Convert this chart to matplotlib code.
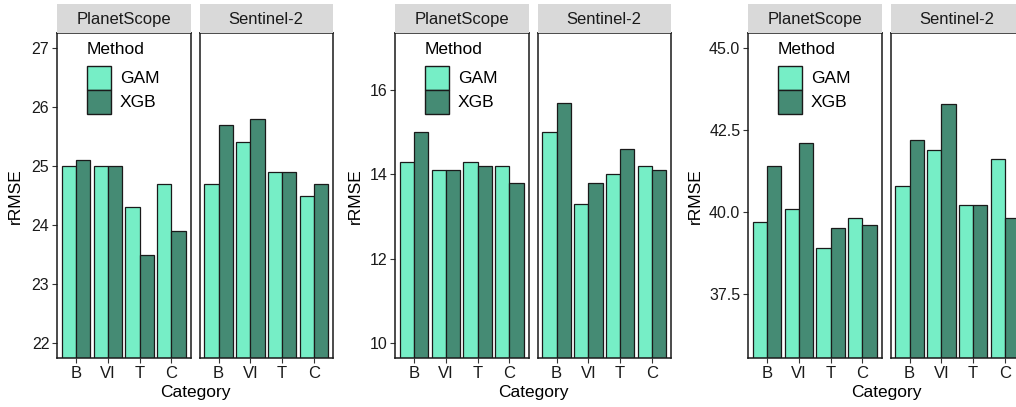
import numpy as np
import matplotlib.pyplot as plt
from matplotlib.patches import Rectangle

plt.rcParams['font.family'] = ['Liberation Sans', 'DejaVu Sans']

# --- Data ---
categories = ['B', 'VI', 'T', 'C']
sensors = ['PlanetScope', 'Sentinel-2']
methods = ['GAM', 'XGB']

# left group
a_planet_gam = [25.0, 25.0, 24.3, 24.7]
a_planet_xgb = [25.1, 25.0, 23.5, 23.9]
a_sentinel_gam = [24.7, 25.4, 24.9, 24.5]
a_sentinel_xgb = [25.7, 25.8, 24.9, 24.7]

# middle group
b_planet_gam = [14.3, 14.1, 14.3, 14.2]
b_planet_xgb = [15.0, 14.1, 14.2, 13.8]
b_sentinel_gam = [15.0, 13.3, 14.0, 14.2]
b_sentinel_xgb = [15.7, 13.8, 14.6, 14.1]

# right group
c_planet_gam = [39.7, 40.1, 38.9, 39.8]
c_planet_xgb = [41.4, 42.1, 39.5, 39.6]
c_sentinel_gam = [40.8, 41.9, 40.2, 41.6]
c_sentinel_xgb = [42.2, 43.3, 40.2, 39.8]

a_ticks = [22, 23, 24, 25, 26, 27]
b_ticks = [10, 12, 14, 16]
c_ticks = [37.5, 40.0, 42.5, 45.0]

groups = [
    dict(left=57, ylab_x=15, data=[(a_planet_gam, a_planet_xgb), (a_sentinel_gam, a_sentinel_xgb)],
         lim=(22, 27), ticks=a_ticks, fmt='{:g}'),
    dict(left=395, ylab_x=355, data=[(b_planet_gam, b_planet_xgb), (b_sentinel_gam, b_sentinel_xgb)],
         lim=(10, 17), ticks=b_ticks, fmt='{:g}'),
    dict(left=748, ylab_x=695, data=[(c_planet_gam, c_planet_xgb), (c_sentinel_gam, c_sentinel_xgb)],
         lim=(36, 45), ticks=c_ticks, fmt='{:.1f}'),
]

colors = {'GAM': '#76EEC6', 'XGB': '#458B74'}
edge = '#1a1a1a'

# --- Layout (pixels) ---
W, H = 1016, 407
panel_w = 133.5
gap = 9
plot_top, plot_bot = 33, 358
strip_top = 4

fig = plt.figure(figsize=(W / 100, H / 100), dpi=100)


def px(xp, yp):
    return xp / W, 1 - yp / H


def draw_legend(left):
    # ggplot-style legend inside the first panel
    fig.text(*px(left + 30, 50), 'Method', ha='left', va='center', fontsize=12.5)
    for i, m in enumerate(methods):
        top = 66 + i * 24
        fig.add_artist(Rectangle(px(left + 29.5, top + 24), 24 / W, 24 / H,
                                 transform=fig.transFigure, facecolor=colors[m],
                                 edgecolor=edge, linewidth=1.0))
        fig.text(*px(left + 63, top + 12.5), m, ha='left', va='center', fontsize=12.5)


x = np.arange(1, len(categories) + 1)
bw = 0.45

for g in groups:
    lo, hi = g['lim']
    pad = (hi - lo) * 0.05
    for j, (gam, xgb) in enumerate(g['data']):
        left = g['left'] + j * (panel_w + gap)
        ax = fig.add_axes([left / W, 1 - plot_bot / H, panel_w / W, (plot_bot - plot_top) / H])
        ax.bar(x - bw / 2, gam, bw, color=colors['GAM'], edgecolor=edge, linewidth=0.9)
        ax.bar(x + bw / 2, xgb, bw, color=colors['XGB'], edgecolor=edge, linewidth=0.9)
        ax.set_xlim(0.4, len(categories) + 0.6)
        ax.set_ylim(lo - pad, hi + pad)
        ax.set_xticks(x)
        ax.set_xticklabels(categories, fontsize=12)
        ax.tick_params(axis='x', length=3.5, width=0.8, pad=2.5, color='#333333', labelcolor=edge)
        if j == 0:
            ax.set_yticks(g['ticks'])
            ax.set_yticklabels([g['fmt'].format(t) for t in g['ticks']], fontsize=11.5)
            ax.tick_params(axis='y', length=3.5, width=0.8, pad=2, color='#333333', labelcolor=edge)
        else:
            ax.set_yticks([])
        for s in ax.spines.values():
            s.set_linewidth(1.1)
            s.set_color(edge)

        # facet strip
        sax = fig.add_axes([left / W, 1 - plot_top / H, panel_w / W, (plot_top - strip_top) / H])
        sax.set_facecolor('#D9D9D9')
        sax.set_xticks([])
        sax.set_yticks([])
        for s in sax.spines.values():
            s.set_visible(False)
        sax.text(0.5, 0.48, sensors[j], ha='center', va='center', fontsize=12,
                 color=edge, transform=sax.transAxes)

    draw_legend(g['left'])

    # axis titles
    cx = (g['left'] + g['left'] + 2 * panel_w + gap) / 2
    fig.text(cx / W, 1 - 393 / H, 'Category', ha='center', va='center', fontsize=12.5)
    fig.text(g['ylab_x'] / W, 1 - 196 / H, 'rRMSE', ha='center', va='center',
             rotation=90, fontsize=12.5)

fig.savefig('out.png', dpi=100)
